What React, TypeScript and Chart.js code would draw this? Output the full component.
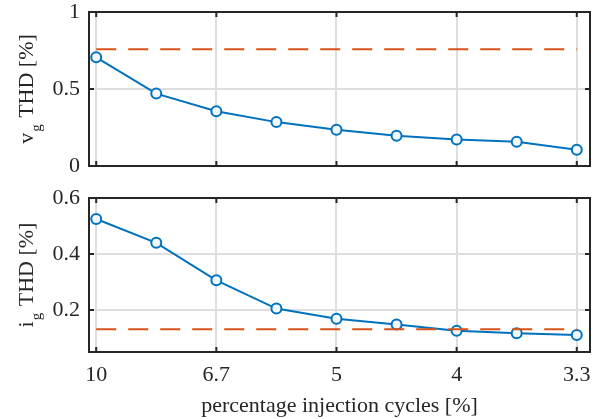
import React, { useEffect, useRef } from 'react';
import { Chart, registerables } from 'chart.js';

Chart.register(...registerables);

// ---- data ----
const xPositions = [0, 1, 2, 3, 4, 5, 6, 7, 8];
const xTickPositions = [0, 2, 4, 6, 8];
const xTickLabels = ['10', '6.7', '5', '4', '3.3'];
const vgTHD = [0.706, 0.47, 0.355, 0.285, 0.235, 0.196, 0.172, 0.157, 0.105];
const vgLimit = [0.758, 0.758];
const igTHD = [0.525, 0.44, 0.306, 0.205, 0.169, 0.148, 0.126, 0.117, 0.111];
const igLimit = [0.131, 0.131];
const limitX = [0, 8];
const vgYTicks = [0, 0.5, 1];
const igYTicks = [0.2, 0.4, 0.6];
const xTitle = 'percentage injection cycles [%]';

const FONT = '"Liberation Serif", "Times New Roman", serif';
const BLUE = '#0072BD';
const ORANGE = '#D95319';
const AXIS = '#262626';
const GRID = '#dedede';

const framePlugin = {
  id: 'matlabFrame',
  afterDraw(chart: any, _args: any, opts: any) {
    const { ctx, chartArea: a, scales } = chart;
    ctx.save();
    ctx.strokeStyle = AXIS;
    ctx.lineWidth = 2;
    ctx.strokeRect(a.left, a.top, a.right - a.left, a.bottom - a.top);
    const tl = 5;
    ctx.beginPath();
    scales.x.ticks.forEach((t: any) => {
      const px = scales.x.getPixelForValue(t.value);
      ctx.moveTo(px, a.bottom);
      ctx.lineTo(px, a.bottom - tl);
      ctx.moveTo(px, a.top);
      ctx.lineTo(px, a.top + tl);
    });
    scales.y.ticks.forEach((t: any) => {
      const py = scales.y.getPixelForValue(t.value);
      ctx.moveTo(a.left, py);
      ctx.lineTo(a.left + tl, py);
      ctx.moveTo(a.right, py);
      ctx.lineTo(a.right - tl, py);
    });
    ctx.stroke();

    // y label with subscript
    const main = `22px ${FONT}`;
    const sub = `15px ${FONT}`;
    ctx.fillStyle = AXIS;
    ctx.font = main;
    const w1 = ctx.measureText(opts.base).width;
    const w3 = ctx.measureText(opts.rest).width;
    ctx.font = sub;
    const w2 = ctx.measureText(opts.sub).width + 2;
    const total = w1 + w2 + w3;
    const cy = (a.top + a.bottom) / 2;
    ctx.translate(opts.labelX, cy);
    ctx.rotate(-Math.PI / 2);
    ctx.textBaseline = 'alphabetic';
    ctx.textAlign = 'left';
    let x = -total / 2;
    ctx.font = main;
    ctx.fillText(opts.base, x, 0);
    x += w1 + 1;
    ctx.font = sub;
    ctx.fillText(opts.sub, x, 8);
    x += w2 - 1;
    ctx.font = main;
    ctx.fillText(opts.rest, x, 0);
    ctx.restore();

    if (opts.xTitle) {
      ctx.save();
      ctx.font = main;
      ctx.fillStyle = AXIS;
      ctx.textAlign = 'center';
      ctx.textBaseline = 'alphabetic';
      ctx.fillText(opts.xTitle, (a.left + a.right) / 2, opts.xTitleY);
      ctx.restore();
    }
  },
};

function makeConfig(
  values: number[],
  limit: number[],
  yMin: number,
  yMax: number,
  yTicks: number[],
  showX: boolean,
  padTop: number,
  xHeight: number,
  label: { base: string; sub: string; rest: string },
  xTitleY: number
): any {
  return {
    type: 'line',
    data: {
      datasets: [
        {
          data: limitX.map((x, i) => ({ x, y: limit[i] })),
          borderColor: ORANGE,
          borderWidth: 2,
          borderDash: [20, 12],
          pointRadius: 0,
          fill: false,
        },
        {
          data: xPositions.map((x, i) => ({ x, y: values[i] })),
          borderColor: BLUE,
          borderWidth: 2,
          pointRadius: 5,
          pointBorderWidth: 2,
          pointBorderColor: BLUE,
          pointBackgroundColor: '#f3f8fc',
          fill: false,
        },
      ],
    },
    options: {
      responsive: false,
      animation: false,
      devicePixelRatio: 1,
      layout: { padding: { top: padTop, right: 16, left: 0, bottom: 0 } },
      plugins: {
        legend: { display: false },
        tooltip: { enabled: false },
        matlabFrame: { ...label, labelX: 33, xTitle: showX ? xTitle : null, xTitleY },
      },
      scales: {
        x: {
          type: 'linear',
          min: -0.12,
          max: 8.22,
          afterBuildTicks: (s: any) => {
            s.ticks = xTickPositions.map((v) => ({ value: v }));
          },
          afterFit: (s: any) => {
            s.height = xHeight;
          },
          grid: { color: GRID, lineWidth: 2, drawTicks: false },
          border: { display: false },
          ticks: {
            display: showX,
            autoSkip: false,
            maxRotation: 0,
            padding: 10,
            color: AXIS,
            font: { family: FONT, size: 22 },
            callback: (v: number) => xTickLabels[xTickPositions.indexOf(v)],
          },
        },
        y: {
          type: 'linear',
          min: yMin,
          max: yMax,
          afterBuildTicks: (s: any) => {
            s.ticks = yTicks.map((v) => ({ value: v }));
          },
          afterFit: (s: any) => {
            s.width = 89;
          },
          grid: { color: GRID, lineWidth: 2, drawTicks: false },
          border: { display: false },
          ticks: {
            padding: 9,
            color: AXIS,
            font: { family: FONT, size: 22, lineHeight: 0.2 },
            callback: (v: number) => String(v),
          },
        },
      },
    },
    plugins: [framePlugin],
  };
}

export default function App() {
  const ref1 = useRef<HTMLCanvasElement>(null);
  const ref2 = useRef<HTMLCanvasElement>(null);

  useEffect(() => {
    const c1 = new Chart(
      ref1.current as HTMLCanvasElement,
      makeConfig(vgTHD, vgLimit, 0, 1, vgYTicks, false, 12, 14, { base: 'v', sub: 'g', rest: ' THD [%]' }, 0)
    );
    const c2 = new Chart(
      ref2.current as HTMLCanvasElement,
      makeConfig(igTHD, igLimit, 0.05, 0.6, igYTicks, true, 18, 67, { base: 'i', sub: 'g', rest: ' THD [%]' }, 232)
    );
    return () => {
      c1.destroy();
      c2.destroy();
    };
  }, []);

  return (
    <div style={{ position: 'fixed', left: 0, top: 0, width: 606, height: 419, background: '#fff' }}>
      <canvas ref={ref1} width={606} height={180} style={{ position: 'absolute', left: 0, top: 0, width: 606, height: 180 }} />
      <canvas ref={ref2} width={606} height={239} style={{ position: 'absolute', left: 0, top: 180, width: 606, height: 239 }} />
    </div>
  );
}
